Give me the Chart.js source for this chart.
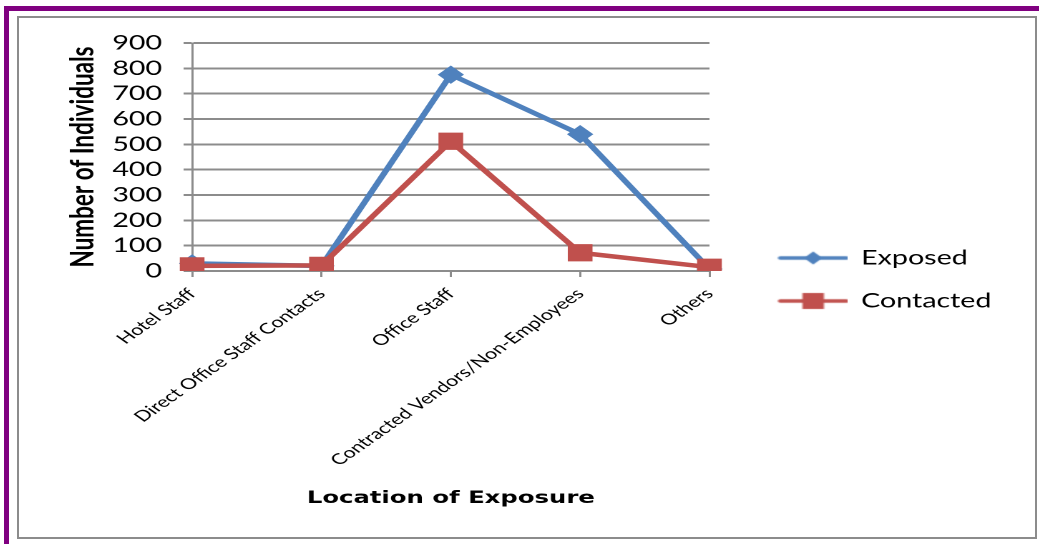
<!DOCTYPE html>
<html>
<head>
<meta charset="utf-8">
<script src="https://cdn.jsdelivr.net/npm/chart.js@4.4.0/dist/chart.umd.min.js"></script>
<style>
html, body { margin: 0; padding: 0; background: #fff; }
body { width: 1039px; height: 544px; position: relative; overflow: hidden; }
#frameTop { position: absolute; left: 4px; top: 6px; width: 1035px; height: 5px; background: #800080; }
#frameLeft { position: absolute; left: 4px; top: 6px; width: 5px; height: 538px; background: #800080; }
#box { position: absolute; left: 17px; top: 16px; width: 1016px; height: 519px; border: 2px solid #8c8c8c; background: #fff; }
/* the original picture is a horizontally stretched Excel chart */
#wrap { position: absolute; left: 0; top: 0; width: 710.5px; height: 519px; transform: scaleX(1.43); transform-origin: 0 0; }
</style>
</head>
<body>
<div id="frameTop"></div>
<div id="frameLeft"></div>
<div id="box"><div id="wrap"><canvas id="lineChart"></canvas></div></div>
<script>
var categories = ['Hotel Staff', 'Direct Office Staff Contacts', 'Office Staff', 'Contracted Vendors/Non-Employees', 'Others'];
var exposed = [30, 20, 775, 540, 8];
var contacted = [20, 22, 512, 72, 15];
var yMin = 0, yMax = 900, yStep = 100;

var blue = '#4F81BD';
var red = '#C0504D';

// legend icon: line with marker, like Excel
function legendIcon(color, shape) {
    var c = document.createElement('canvas');
    c.width = 80;
    c.height = 22;
    var g = c.getContext('2d');
    g.strokeStyle = color;
    g.lineWidth = 3.5;
    g.lineCap = 'round';
    g.beginPath();
    g.moveTo(33, 11);
    g.lineTo(79, 11);
    g.stroke();
    g.fillStyle = color;
    if (shape === 'diamond') {
        g.beginPath();
        g.moveTo(56, 4.5);
        g.lineTo(62.5, 11);
        g.lineTo(56, 17.5);
        g.lineTo(49.5, 11);
        g.closePath();
        g.fill();
    } else {
        g.fillRect(48.5, 3, 15, 16);
    }
    return c;
}
var icons = [legendIcon(blue, 'diamond'), legendIcon(red, 'square')];

// legend drawn to the right of the plot, centred on the canvas height
var sideLegend = {
    id: 'sideLegend',
    afterDraw: function (chart) {
        var c = chart.ctx;
        var area = chart.chartArea;
        var midY = chart.height / 2 + 2;
        c.save();
        c.fillStyle = '#000';
        c.font = '20px Lato';
        c.textBaseline = 'middle';
        c.textAlign = 'left';
        chart.data.datasets.forEach(function (ds, i) {
            var y = midY + (i - 0.5) * 43;
            c.drawImage(icons[i], area.right + 16.5, y - 11, 80, 22);
            c.fillText(ds.label, area.right + 106, y);
        });
        c.restore();
    }
};

var ctx = document.getElementById('lineChart').getContext('2d');
var chart = new Chart(ctx, {
    type: 'line',
    data: {
        labels: categories,
        datasets: [{
            label: 'Exposed',
            data: exposed,
            borderColor: blue,
            backgroundColor: blue,
            borderWidth: 4.5,
            pointStyle: 'rectRot',
            pointRadius: 8.5,
            pointBorderWidth: 1,
            pointBackgroundColor: blue,
            pointBorderColor: blue,
            order: 1
        }, {
            label: 'Contacted',
            data: contacted,
            borderColor: red,
            backgroundColor: red,
            borderWidth: 4.5,
            pointStyle: 'rect',
            pointRadius: 11.5,
            pointBorderWidth: 1,
            pointBackgroundColor: red,
            pointBorderColor: red,
            order: 0
        }]
    },
    options: {
        responsive: true,
        maintainAspectRatio: false,
        devicePixelRatio: 2,
        animation: false,
        layout: {
            padding: { left: 31, right: 228, top: 24, bottom: 28 }
        },
        plugins: {
            tooltip: { enabled: false },
            legend: { display: false }
        },
        scales: {
            x: {
                offset: false,
                afterFit: function (scale) { scale.height = 238; },
                grid: { drawOnChartArea: false, drawTicks: true, tickLength: 6, color: '#8c8c8c', lineWidth: 1.5 },
                border: { color: '#8c8c8c', width: 2 },
                ticks: {
                    color: '#000',
                    font: { family: 'Lato', size: 15 },
                    maxRotation: 45,
                    minRotation: 45,
                    autoSkip: false,
                    padding: 8
                },
                title: {
                    display: true,
                    text: 'Location of Exposure',
                    color: '#000',
                    font: { family: 'DejaVu Sans', size: 17, weight: 'bold' },
                    padding: { top: 16, bottom: 0 }
                }
            },
            y: {
                min: yMin,
                max: yMax,
                afterFit: function (scale) { scale.width = 90; },
                ticks: {
                    stepSize: yStep,
                    autoSkip: false,
                    color: '#000',
                    font: { family: 'Lato', size: 20, lineHeight: 1 },
                    padding: 15
                },
                grid: { color: '#8c8c8c', lineWidth: 2, tickLength: 6 },
                border: { color: '#8c8c8c', width: 1.5 },
                title: {
                    display: true,
                    text: 'Number of Individuals',
                    color: '#000',
                    font: { family: 'Lato', size: 22.5, weight: 'bold' },
                    padding: { top: 0, bottom: 4 }
                }
            }
        }
    },
    plugins: [sideLegend]
});
</script>
</body>
</html>
